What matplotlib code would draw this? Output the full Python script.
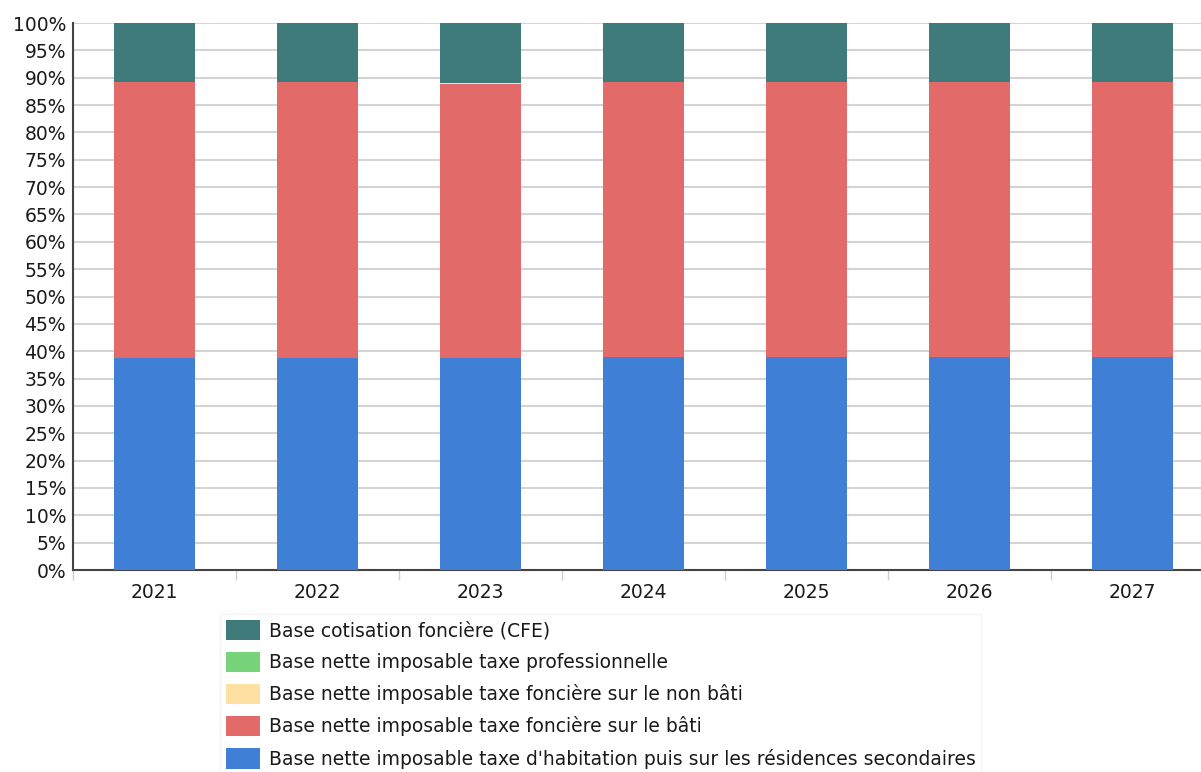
import numpy as np
import matplotlib.pyplot as plt
from matplotlib.ticker import FixedLocator, PercentFormatter

# Répartition des bases fiscales (en % du total)
annees = ["2021", "2022", "2023", "2024", "2025", "2026", "2027"]
base_habitation = [38.8, 38.7, 38.7, 38.9, 38.9, 38.9, 38.9]
base_bati = [50.5, 50.5, 50.1, 50.3, 50.4, 50.4, 50.4]
base_non_bati = [0.0, 0.0, 0.3, 0.1, 0.0, 0.0, 0.0]
base_tp = [0.0, 0.0, 0.0, 0.0, 0.0, 0.0, 0.0]
base_cfe = [10.7, 10.8, 10.9, 10.7, 10.7, 10.7, 10.7]

series = [
    ("Base nette imposable taxe d'habitation puis sur les résidences secondaires", base_habitation, "#3f80d6"),
    ("Base nette imposable taxe foncière sur le bâti", base_bati, "#e26a68"),
    ("Base nette imposable taxe foncière sur le non bâti", base_non_bati, "#fde0a2"),
    ("Base nette imposable taxe professionnelle", base_tp, "#78d47a"),
    ("Base cotisation foncière (CFE)", base_cfe, "#3e7b7a"),
]

plt.rcParams["font.family"] = ["DejaVu Sans"]
fig = plt.figure(figsize=(12.01, 7.72), dpi=100)
ax = fig.add_axes([73 / 1201, 202 / 772, 1141 / 1201, 547 / 772])

x = np.arange(len(annees))
bottom = np.zeros(len(annees))
handles = []
for label, vals, color in series:
    vals = np.array(vals)
    b = ax.bar(x, vals, width=0.5, bottom=bottom, color=color, label=label, zorder=3)
    handles.append(b)
    bottom += vals

ax.set_xlim(-0.5, len(annees) - 0.5)
ax.set_ylim(0, 100)
ax.set_yticks(np.arange(0, 101, 5))
ax.yaxis.set_major_formatter(PercentFormatter(decimals=0))
ax.grid(axis="y", color="#d4d4d4", linewidth=1.5, zorder=0)

ax.set_xticks(x)
ax.set_xticklabels(annees)
ax.xaxis.set_minor_locator(FixedLocator(np.arange(-0.5, len(annees), 1)))
ax.tick_params(axis="x", which="major", length=0, pad=9, labelsize=13.5, colors="#1a1a1a")
ax.tick_params(axis="x", which="minor", length=7, width=1, color="#cccccc")
ax.tick_params(axis="y", length=0, pad=5, labelsize=13.5, colors="#1a1a1a")

for side in ["top", "right"]:
    ax.spines[side].set_visible(False)
ax.spines["left"].set_color("#444444")
ax.spines["left"].set_linewidth(1.5)
ax.spines["bottom"].set_color("#444444")
ax.spines["bottom"].set_linewidth(1.5)

leg = fig.legend(handles[::-1], [s[0] for s in series][::-1],
                 loc="upper left", bbox_to_anchor=(220 / 1201, 1 - 614 / 772),
                 fontsize=13.5, frameon=True, fancybox=False, edgecolor="#f2f2f2",
                 handlelength=1.85, handleheight=1.3, handletextpad=0.45,
                 labelspacing=0.62, borderaxespad=0, borderpad=0.3)
for t in leg.get_texts():
    t.set_color("#1a1a1a")

fig.savefig("out.png", dpi=100)
